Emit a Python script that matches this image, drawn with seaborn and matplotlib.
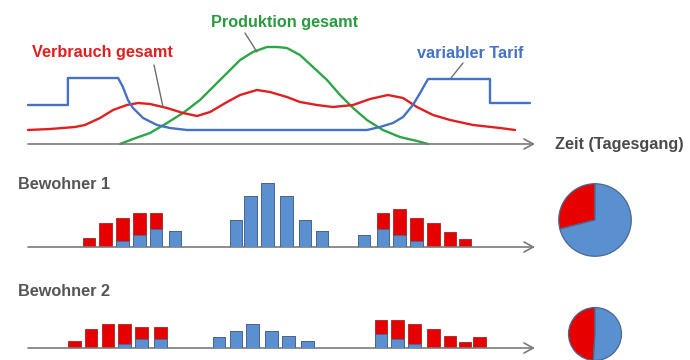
import numpy as np
import matplotlib
matplotlib.use("Agg")
import matplotlib.pyplot as plt
from matplotlib.lines import Line2D
import seaborn as sns

sns.set_theme(style="white")
plt.rcParams["font.family"] = ["Liberation Sans", "DejaVu Sans"]

# --- data (Zeit in Stunden, Werte in relativen Einheiten) ---
tarif_t = [0, 1.90, 1.90, 4.29, 4.52, 4.76, 5.00, 5.48, 6.14, 6.76, 7.57,
           16.14, 16.76, 17.38, 17.86, 18.33, 18.67, 19.05, 22.0, 22.0, 23.9]
tarif_v = [39, 39, 66, 66, 57, 44, 36, 26, 19, 16, 14,
           14, 17, 21, 27, 39, 51, 65, 65, 41, 41]

verbrauch_t = [0, 1.05, 2.24, 2.71, 3.43, 4.05, 4.71, 5.24, 5.81, 6.62, 7.38, 8.05,
               8.67, 9.48, 10.10, 10.90, 11.52, 12.33, 12.95, 13.76, 14.52, 15.48,
               16.29, 17.14, 17.86, 18.52, 19.29, 20.10, 21.19, 22.48, 23.19]
verbrauch_v = [14, 15, 17, 19, 26, 34, 39, 41, 40, 36, 31, 28,
               32, 42, 49, 54, 52, 47, 42, 39, 37, 39,
               45, 49, 46, 37, 29, 24, 19, 16, 14]

produktion_t = [4.38, 5.00, 5.81, 6.62, 7.38, 8.19, 8.81, 9.48, 10.10, 10.71, 11.38,
                11.86, 12.33, 12.95, 13.57, 14.24, 14.86, 15.48, 16.14, 16.90, 17.71,
                18.52, 19.05]
produktion_v = [0, 5, 11, 21, 31, 44, 57, 71, 84, 92, 97,
                97, 96, 89, 77, 64, 49, 36, 24, 14, 7, 3, 0]

b1_t = [2.9, 3.7, 4.5, 5.3, 6.1, 7.0,
        9.9, 10.6, 11.4, 12.3, 13.2, 14.0,
        16.0, 16.9, 17.7, 18.5, 19.3, 20.1, 20.8]
b1_total = [9, 24, 29, 34, 34, 16,
            27, 51, 64, 51, 27, 16,
            12, 34, 38, 29, 24, 15, 8]
b1_eigen = [0, 0, 6, 12, 18, 16,
            27, 51, 64, 51, 27, 16,
            12, 18, 12, 6, 0, 0, 0]

b2_t = [2.2, 3.0, 3.8, 4.6, 5.4, 6.3,
        9.1, 9.9, 10.7, 11.6, 12.4, 13.3,
        16.8, 17.6, 18.4, 19.3, 20.1, 20.8, 21.5]
b2_total = [7, 19, 24, 24, 21, 21,
            11, 17, 24, 17, 12, 7,
            28, 28, 24, 19, 12, 6, 11]
b2_eigen = [0, 0, 0, 4, 9, 9,
            11, 17, 24, 17, 12, 7,
            14, 9, 4, 0, 0, 0, 0]

pie1 = [0.29, 0.71]   # Netzbezug, Eigenverbrauch
pie2 = [0.49, 0.51]

RED = "#e60000"
BLUE = "#5a8fd0"
GRAY = "#555555"
AXIS = "#7a7a7a"

W, H = 690, 360
fig = plt.figure(figsize=(6.9, 3.6), dpi=100)

X0 = -28 / 21
X1 = (W - 28) / 21
T_END = 24.14


def px_axes(ybase, height):
    ax = fig.add_axes([0, (H - ybase) / H, 1, height / H])
    ax.set_xlim(X0, X1)
    ax.set_ylim(0, height)
    ax.axis("off")
    return ax


def time_arrow(ax):
    ax.annotate("", xy=(T_END, 0), xytext=(0, 0),
                arrowprops=dict(arrowstyle="->,head_length=0.55,head_width=0.3",
                                color=AXIS, lw=1.2, shrinkA=0, shrinkB=0),
                annotation_clip=False)


def fig_text(x, y, s, **kw):
    fig.text(x / W, 1 - y / H, s, fontsize=11.7, fontweight="bold", va="center", **kw)


def leader(x0, y0, x1, y1):
    fig.add_artist(Line2D([x0 / W, x1 / W], [1 - y0 / H, 1 - y1 / H],
                          color="#6e6e6e", lw=1.0))


# --- Tagesgang oben ---
ax = px_axes(144, 124)
time_arrow(ax)
curve_kw = dict(ax=ax, lw=1.7, estimator=None, sort=False)
sns.lineplot(x=produktion_t, y=produktion_v, color="#2ca646", **curve_kw)
sns.lineplot(x=verbrauch_t, y=verbrauch_v, color="#e02020", **curve_kw)
sns.lineplot(x=tarif_t, y=tarif_v, color="#4472c4", **curve_kw)
for l in ax.lines:
    l.set_clip_on(False)
    l.set_solid_joinstyle("round")
    l.set_solid_capstyle("round")

fig_text(285, 22, "Produktion gesamt", color="#2a9a3e", ha="center")
fig_text(32, 52, "Verbrauch gesamt", color="#e02020", ha="left")
fig_text(417, 53, "variabler Tarif", color="#4472c4", ha="left")
fig_text(555, 145, "Zeit (Tagesgang)", color="#4a4a4a", ha="left")
leader(245, 33, 257, 52)
leader(154, 65, 163, 107)
leader(463, 63, 451, 78)


# --- Bewohner ---
def bewohner(ybase, height, t, total, eigen, label, ylab):
    ax = px_axes(ybase, height)
    time_arrow(ax)
    ax.bar(t, total, width=0.6, color=RED, edgecolor="#b03030", lw=0.7, zorder=2)
    ax.bar(t, eigen, width=0.6, color=BLUE, edgecolor="#4a6890", lw=0.7, zorder=3)
    fig_text(18, ylab, label, color=GRAY, ha="left")


bewohner(247, 70, b1_t, b1_total, b1_eigen, "Bewohner 1", 185)
bewohner(348, 40, b2_t, b2_total, b2_eigen, "Bewohner 2", 292)


def pie_at(cx, cy, r, vals):
    ax = fig.add_axes([(cx - r) / W, (H - cy - r) / H, 2 * r / W, 2 * r / H])
    ax.pie(vals, colors=[RED, BLUE], startangle=90, counterclock=True,
           wedgeprops=dict(edgecolor="#4a6890", lw=0.9))
    ax.set_xlim(-1.02, 1.02)
    ax.set_ylim(-1.02, 1.02)
    ax.axis("off")


pie_at(595, 220, 37, pie1)
pie_at(595, 334, 27, pie2)

fig.savefig("out.png", dpi=100)
